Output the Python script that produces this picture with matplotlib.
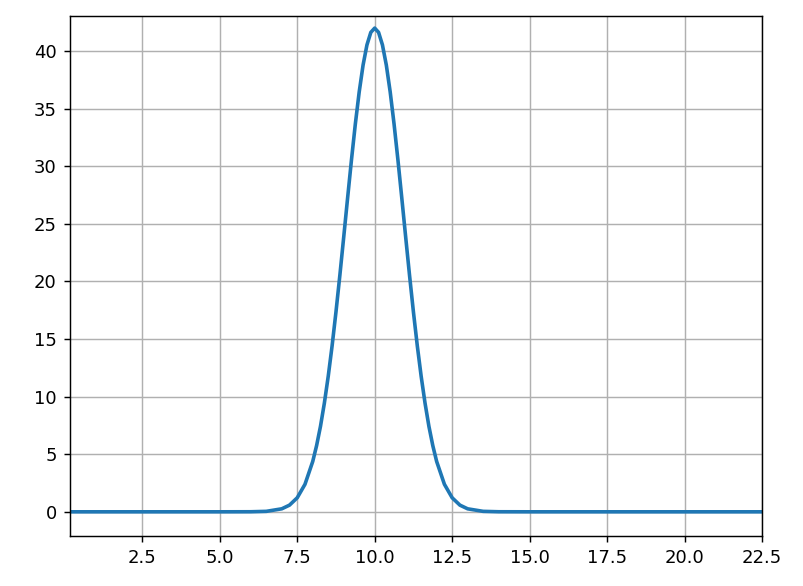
import matplotlib
matplotlib.use("Agg")
import matplotlib.pyplot as plt

# Curve values
x_vals = [0.15, 5.0, 6.0, 6.5, 7.0, 7.25, 7.5, 7.75, 8.0, 8.125, 8.25, 8.375,
          8.5, 8.625, 8.75, 8.875, 9.0, 9.125, 9.25, 9.375, 9.5, 9.625, 9.75,
          9.875, 10.0, 10.125, 10.25, 10.375, 10.5, 10.625, 10.75, 10.875,
          11.0, 11.125, 11.25, 11.375, 11.5, 11.625, 11.75, 11.875, 12.0,
          12.25, 12.5, 12.75, 13.0, 13.5, 14.0, 15.0, 22.5]
y_vals = [0.0, 0.0, 0.005, 0.04, 0.26, 0.58, 1.22, 2.39, 4.37, 5.75, 7.42, 9.43,
          11.76, 14.41, 17.35, 20.52, 23.85, 27.23, 30.55, 33.67, 36.46, 38.79,
          40.54, 41.63, 42.0, 41.63, 40.54, 38.79, 36.46, 33.67, 30.55, 27.23,
          23.85, 20.52, 17.35, 14.41, 11.76, 9.43, 7.42, 5.75, 4.37,
          2.39, 1.22, 0.58, 0.26, 0.04, 0.005, 0.0, 0.0]

fig = plt.figure(figsize=(803 / 130, 586 / 130), dpi=130)
ax = fig.add_axes([69.5 / 803, 50 / 586, (762 - 69.5) / 803, (536 - 16) / 586])

ax.plot(x_vals, y_vals, color='#1f77b4', linewidth=2.0)

ax.set_xlim(x_vals[0], x_vals[-1])
ax.set_ylim(-2.1, 43.05)
ax.set_xticks([2.5, 5.0, 7.5, 10.0, 12.5, 15.0, 17.5, 20.0, 22.5])
ax.set_yticks(range(0, 41, 5))
ax.grid(True)

fig.savefig("out.png", dpi=130)
